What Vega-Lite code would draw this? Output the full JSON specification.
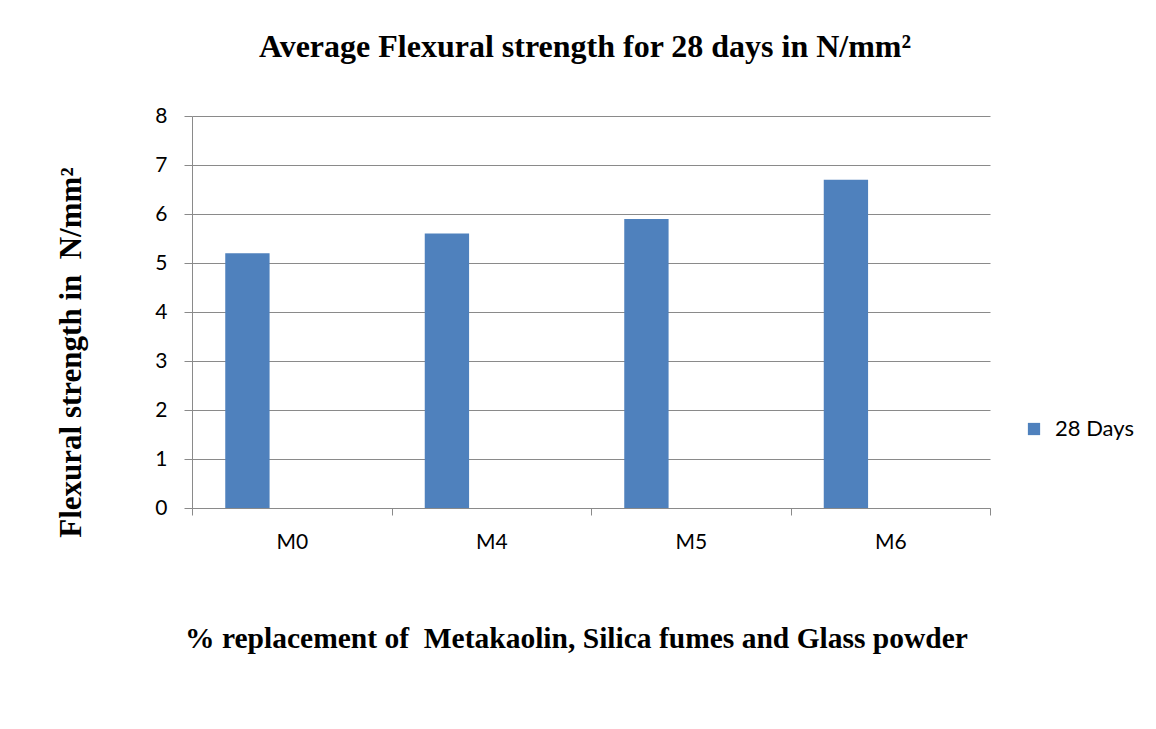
{
  "$schema": "https://vega.github.io/schema/vega-lite/v6.json",
  "width": 798,
  "height": 392,
  "autosize": "none",
  "padding": {"left": 192, "top": 116, "right": 166, "bottom": 221},
  "background": "white",
  "data": {
    "values": [
      {"mix": "M0", "series": "28 Days", "value": 5.2},
      {"mix": "M4", "series": "28 Days", "value": 5.6},
      {"mix": "M5", "series": "28 Days", "value": 5.9},
      {"mix": "M6", "series": "28 Days", "value": 6.7}
    ]
  },
  "title": {
    "text": "Average Flexural strength for 28 days in N/mm²",
    "font": "Liberation Serif",
    "fontSize": 32,
    "fontWeight": "bold",
    "color": "black",
    "anchor": "middle",
    "baseline": "alphabetic",
    "offset": 16,
    "dx": -6
  },
  "mark": {"type": "bar", "color": "#4F81BD"},
  "encoding": {
    "x": {
      "field": "mix",
      "type": "nominal",
      "scale": {"paddingInner": 0, "paddingOuter": 0},
      "axis": {
        "title": "% replacement of \u00a0Metakaolin, Silica fumes and Glass powder",
        "titleFont": "Liberation Serif",
        "titleFontSize": 29.5,
        "titleFontWeight": "bold",
        "titleColor": "black",
        "titleX": 384,
        "titleY": 139,
        "titleAlign": "center",
        "titleBaseline": "alphabetic",
        "labelAngle": 0,
        "labelFont": "Lato",
        "labelFontSize": 21,
        "labelColor": "black",
        "labelPadding": 16,
        "tickBand": "extent",
        "tickSize": 7,
        "tickColor": "#8a8a8a",
        "domainColor": "#8a8a8a",
        "grid": false
      }
    },
    "xOffset": {
      "field": "series",
      "type": "nominal",
      "scale": {"domain": ["28 Days", "s2", "s3"], "paddingInner": 0, "paddingOuter": 0.75}
    },
    "y": {
      "field": "value",
      "type": "quantitative",
      "scale": {"domain": [0, 8]},
      "axis": {
        "title": "Flexural strength in \u00a0N/mm²",
        "titleFont": "Liberation Serif",
        "titleFontSize": 31,
        "titleFontWeight": "bold",
        "titleColor": "black",
        "titleX": -112,
        "titleY": 236,
        "titleAngle": -90,
        "titleAlign": "center",
        "titleBaseline": "alphabetic",
        "values": [0, 1, 2, 3, 4, 5, 6, 7, 8],
        "labelFont": "Lato",
        "labelFontSize": 21,
        "labelColor": "black",
        "labelPadding": 17,
        "tickSize": 8,
        "tickColor": "#8a8a8a",
        "domainColor": "#8a8a8a",
        "grid": true,
        "gridColor": "#8a8a8a"
      }
    },
    "color": {
      "field": "series",
      "type": "nominal",
      "scale": {"domain": ["28 Days"], "range": ["#4F81BD"]},
      "legend": {
        "title": null,
        "orient": "none",
        "legendX": 831,
        "legendY": 302,
        "symbolType": "square",
        "symbolSize": 150,
        "symbolStrokeWidth": 0,
        "symbolOpacity": 1,
        "labelFont": "Lato",
        "labelFontSize": 22,
        "labelColor": "black",
        "labelOffset": 10
      }
    }
  },
  "config": {"view": {"stroke": null}}
}
